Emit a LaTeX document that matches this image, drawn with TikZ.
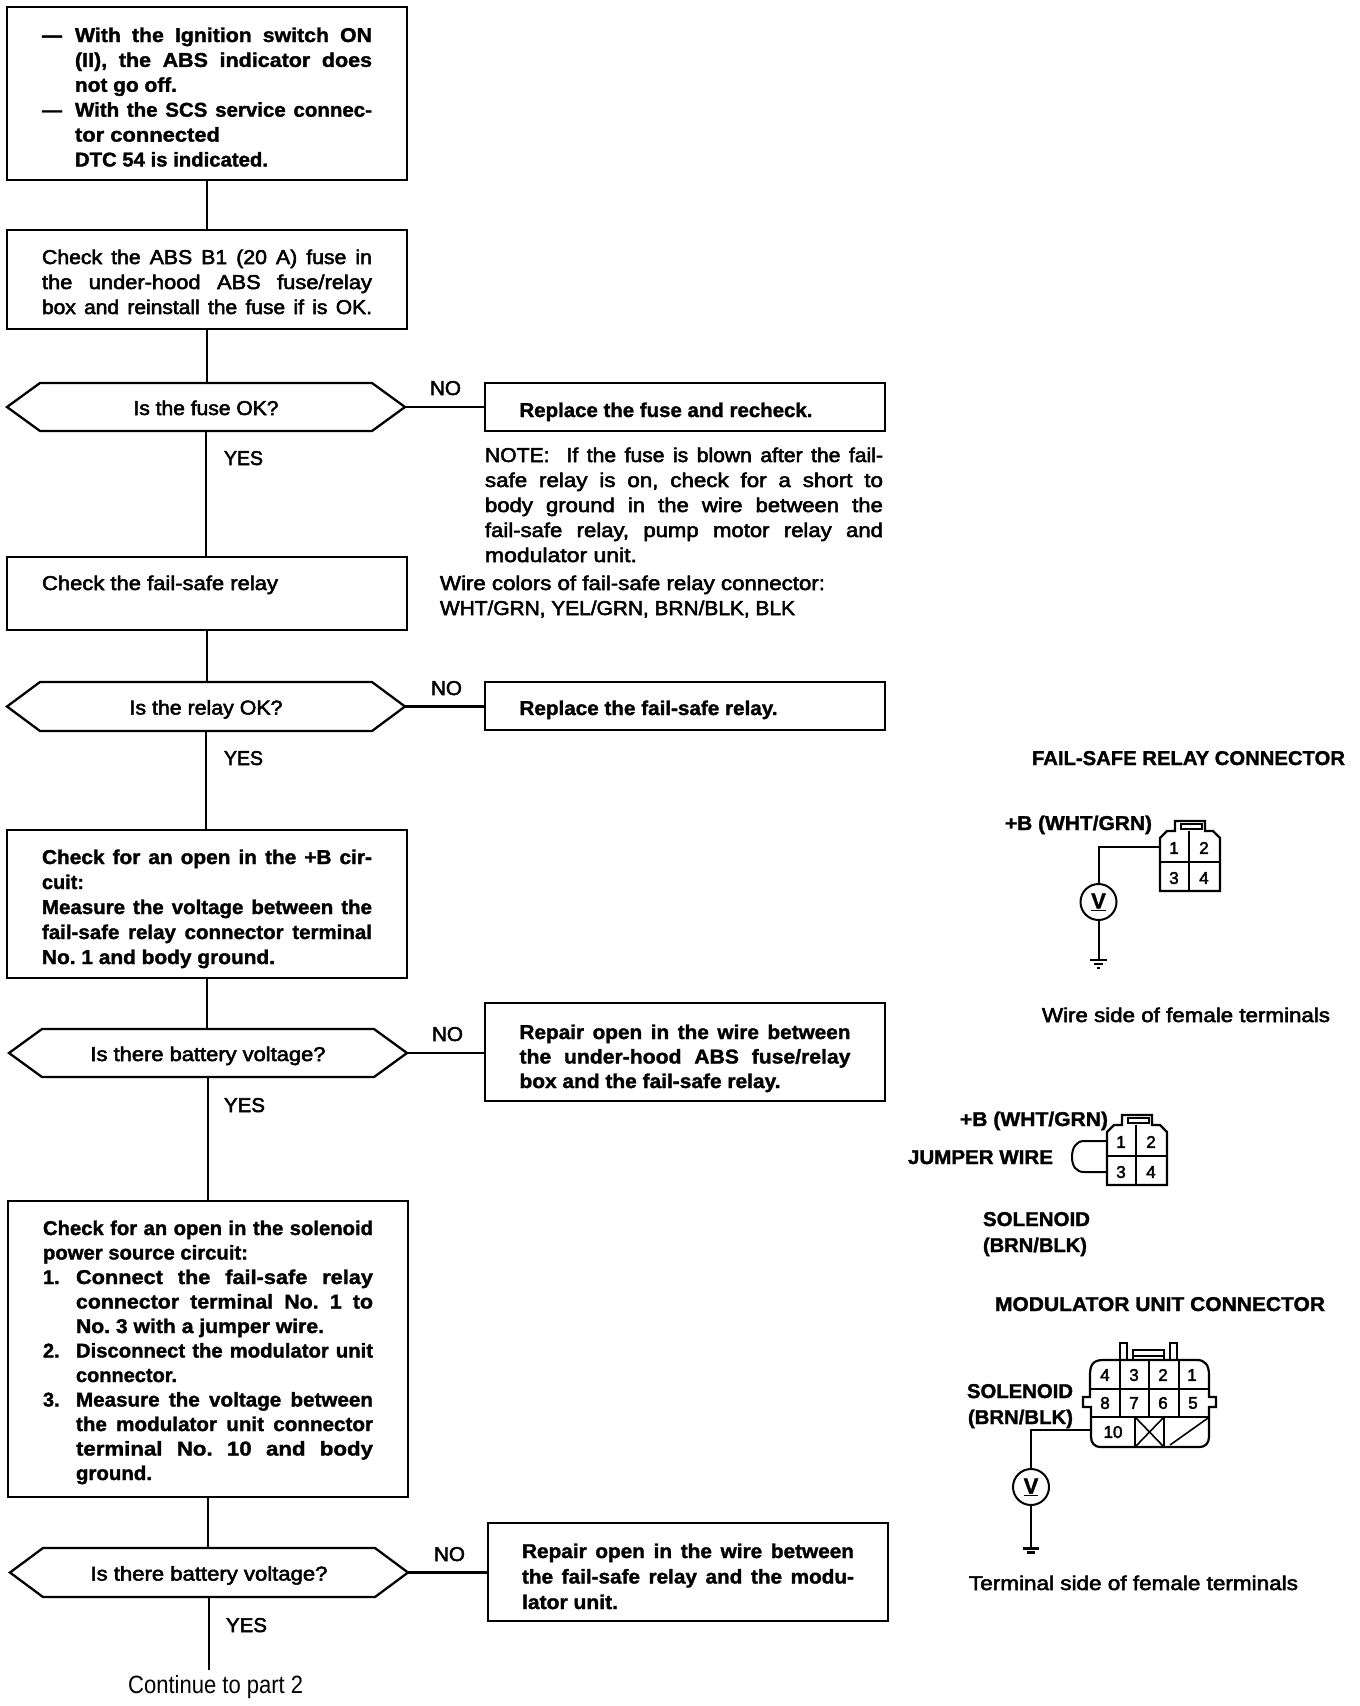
\documentclass[tikz,border=0pt]{standalone}
\usepackage{fontspec}
\usepackage{graphicx}
\setmainfont{Liberation Sans}
\newfontfamily\rgface[FakeBold=2.5]{Liberation Sans}
\newfontfamily\bdface[FakeBold=1.5]{Liberation Sans Bold}
\def\lsv{24pt}
\newcommand\rgf{\fontsize{20}{\lsv}\selectfont\rgface\frenchspacing}
\newcommand\bdf{\fontsize{20}{\lsv}\selectfont\bdface\frenchspacing}
\newcommand\numf{\fontsize{17}{20}\selectfont\rgface}
\newsavebox\fbx
\newlength\lw
\newlength\ind
\newlength\tmpl
\setlength\ind{33pt}
\newcommand\myfit[2]{\sbox\fbx{#2}\resizebox{#1pt}{\height}{\usebox\fbx}}
\newcommand\jl[1]{\sbox\fbx{#1}%
  \ifdim\wd\fbx>\lw\hbox to \lw{\resizebox{\lw}{\height}{\usebox\fbx}}%
  \else
    \pgfmathsetmacro\scf{1+0.45*(\the\lw-\the\wd\fbx)/\the\wd\fbx}%
    \pgfmathsetlength\tmpl{\the\lw/\scf}%
    \hbox to \lw{\scalebox{\scf}[1]{\hbox to \tmpl{#1}}\hss}%
  \fi}
\newcommand\pl[2]{\hbox to \lw{\myfit{#1}{#2}\hfil}}
\newcommand\il[2]{\hbox to \lw{\hbox to \ind{#1\hfil}\begingroup\advance\lw-\ind\jl{#2}\endgroup}}
\newcommand\ipl[3]{\hbox to \lw{\hbox to \ind{#1\hfil}\myfit{#2}{#3}\hfil}}
\newcommand\tbox[9]{%
  \pgfmathsetlengthmacro\rr{(#3+#5)/2-#6-7}%
  \node[boxnode,minimum width={#4pt-#2pt},minimum height={#5pt-#3pt}] (#1) at ({(#2+#4)/2},{(#3+#5)/2})
   {\smash{\raisebox{\rr}{\vtop{\def\lsv{#7pt}\setlength\lw{#8pt}\hsize=\lw\lineskiplimit=-100pt #9}}}};}
\newcommand\tblock[6]{%
  \node[anchor=base west,inner sep=0pt,outer sep=0pt] (#1) at (#2,#3+7)
   {\vtop{\def\lsv{#4pt}\setlength\lw{#5pt}\hsize=\lw\lineskiplimit=-100pt #6}};}
\newcommand\hexa[7]{%
  \node[inner sep=0pt,outer sep=0pt,minimum width={#3pt-#2pt},minimum height={#5pt-#4pt}] (#1) at ({(#2+#3)/2},{(#4+#5)/2}) {\rgf\smash{\raisebox{-8pt}{\myfit{#6}{#7}}}};
  \draw[border] (#1.west) -- ([xshift=33pt]#1.north west) -- ([xshift=-33pt]#1.north east) -- (#1.east)
     -- ([xshift=-33pt]#1.south east) -- ([xshift=33pt]#1.south west) -- cycle;}
\newcommand\lab[6]{\node[anchor=base west,inner sep=0pt,outer sep=0pt] (#1) at (#2,#3+7) {#6\myfit{#4}{#5}};}
\newcommand\vc[2]{\draw[conn] (#1.south) -- (#1.south |- #2.north);}
\newcommand\hc[2]{\draw[conn] (#1.east) -- (#1.east -| #2.west);}
\newcommand\fourpin[3]{%
 \begin{scope}[shift={(#1,#2)}]
  \draw[part] (0,0) -- (7,-7) -- (15,-7) -- (15,-17) -- (45,-17) -- (45,-7) -- (53,-7) -- (60,0) -- (60,53) -- (0,53) -- cycle;
  \draw[part] (0,24) -- (60,24) (29,-7) -- (29,53);
  \draw[thinpart] (21,-14) rectangle (42,-9);
  \node[pinnum] (#3a) at (14,10) {1};
  \node[pinnum] (#3b) at (44,10) {2};
  \node[pinnum] (#3c) at (14,40) {3};
  \node[pinnum] (#3d) at (44,40) {4};
 \end{scope}}
\tikzset{
  boxnode/.style={draw,line width=2.5pt,inner sep=0pt,outer sep=0pt,rectangle},
  border/.style={line width=2.3pt,line join=miter},
  conn/.style={line width=2.3pt},
  part/.style={line width=2.2pt,line join=miter},
  thinpart/.style={line width=1.6pt},
  wire/.style={line width=2pt},
  pinnum/.style={inner sep=0pt,outer sep=0pt,font=\numf},
  meter/.style={draw,circle,line width=2pt,minimum size=36pt,inner sep=0pt,outer sep=0pt,font=\fontsize{22}{24}\selectfont\bdface},
}
\begin{document}
\begin{tikzpicture}[x=1pt,y=-1pt]
\path[fill=white,use as bounding box] (0,0) rectangle (1360,1706);

% left column
\tbox{b1}{7}{7}{407}{180}{35}{24.9}{330}{\bdf
  \il{—}{With the Ignition switch ON}
  \il{}{(II), the ABS indicator does}
  \ipl{}{102}{not go off.}
  \il{—}{With the SCS service connec-}
  \ipl{}{145}{tor connected}
  \ipl{}{193}{DTC 54 is indicated.}}
\tbox{b2}{7}{230}{407}{329}{257}{25}{330}{\rgf
  \jl{Check the ABS B1 (20 A) fuse in}
  \jl{the under-hood ABS fuse/relay}
  \jl{box and reinstall the fuse if is OK.}}
\hexa{d1}{7}{405}{383}{431}{145}{Is the fuse OK?}
\tbox{b3}{7}{557}{407}{630}{583}{25}{330}{\rgf
  \pl{236}{Check the fail-safe relay}}
\hexa{d2}{7}{405}{682}{731}{153}{Is the relay OK?}
\tbox{b4}{7}{830}{407}{978}{857}{25}{330}{\bdf
  \jl{Check for an open in the +B cir-}
  \pl{42}{cuit:}
  \jl{Measure the voltage between the}
  \jl{fail-safe relay connector terminal}
  \pl{233}{No. 1 and body ground.}}
\hexa{d3}{9}{407}{1029}{1077}{235}{Is there battery voltage?}
\tbox{b5}{8}{1201}{408}{1497}{1228}{24.5}{330}{\bdf
  \jl{Check for an open in the solenoid}
  \pl{205}{power source circuit:}
  \il{1.}{Connect the fail-safe relay}
  \il{}{connector terminal No. 1 to}
  \ipl{}{248}{No. 3 with a jumper wire.}
  \il{2.}{Disconnect the modulator unit}
  \ipl{}{101}{connector.}
  \il{3.}{Measure the voltage between}
  \il{}{the modulator unit connector}
  \il{}{terminal No. 10 and body}
  \ipl{}{76}{ground.}}
\hexa{d4}{10}{408}{1548}{1597}{237}{Is there battery voltage?}
\coordinate (contend) at (209,1670);
\node[anchor=base west,inner sep=0pt] (cont) at (128,1693) {\fontsize{25}{28}\selectfont\rmfamily\myfit{175}{Continue to part 2}};

% right column of results
\tbox{r1}{485}{383}{885}{431}{410}{25}{331}{\bdf\pl{293}{Replace the fuse and recheck.}}
\tblock{note}{485}{455}{25}{398}{\rgf
  \jl{NOTE:\ \ If the fuse is blown after the fail-}
  \jl{safe relay is on, check for a short to}
  \jl{body ground in the wire between the}
  \jl{fail-safe relay, pump motor relay and}
  \pl{152}{modulator unit.}}
\tblock{wires}{440}{583}{25}{385}{\rgf
  \pl{385}{Wire colors of fail-safe relay connector:}
  \pl{355}{WHT/GRN, YEL/GRN, BRN/BLK, BLK}}
\tbox{r2}{485}{682}{885}{730}{708}{25}{331}{\bdf\pl{258}{Replace the fail-safe relay.}}
\tbox{r3}{485}{1003}{885}{1101}{1032}{24.5}{331}{\bdf
  \jl{Repair open in the wire between}
  \jl{the under-hood ABS fuse/relay}
  \pl{261}{box and the fail-safe relay.}}
\tbox{r4}{488}{1523}{888}{1621}{1551}{25.5}{332}{\bdf
  \jl{Repair open in the wire between}
  \jl{the fail-safe relay and the modu-}
  \pl{96}{lator unit.}}

% connectors
\vc{b1}{b2}
\vc{b2}{d1}
\vc{d1}{b3}
\vc{b3}{d2}
\vc{d2}{b4}
\vc{b4}{d3}
\vc{d3}{b5}
\vc{b5}{d4}
\draw[conn] (d4.south) -- (d4.south |- contend);
\hc{d1}{r1}
\hc{d2}{r2}
\hc{d3}{r3}
\hc{d4}{r4}

% NO / YES
\lab{no1}{430}{388}{31}{NO}{\rgf}
\lab{no2}{431}{688}{31}{NO}{\rgf}
\lab{no3}{432}{1034}{31}{NO}{\rgf}
\lab{no4}{434}{1554}{31}{NO}{\rgf}
\lab{yes1}{224}{458}{39}{YES}{\rgf}
\lab{yes2}{224}{758}{39}{YES}{\rgf}
\lab{yes3}{224}{1105}{41}{YES}{\rgf}
\lab{yes4}{226}{1625}{41}{YES}{\rgf}

% fail-safe relay connector
\lab{tfs}{1032}{758}{313}{FAIL-SAFE RELAY CONNECTOR}{\bdf}
\lab{bp1}{1005}{823}{147}{+B (WHT/GRN)}{\bdf}
\fourpin{1160}{838}{pa}
\coordinate (pa1) at (1160,847);
\node[meter] (v1) at (1098.5,902) {\underline{V}};
\coordinate (g1) at (1098.5,960);
\draw[wire] (pa1) -| (v1.north);
\draw[wire] (v1.south) -- (g1);
\draw[wire] (1090,960) -- (1107,960);
\draw[thinpart] (1094,964) -- (1103,964) (1097,968) -- (1100,968);
\lab{wside}{1042}{1015}{288}{Wire side of female terminals}{\rgf}

% jumper
\lab{bp2}{960}{1119}{148}{+B (WHT/GRN)}{\bdf}
\lab{jmp}{908}{1157}{145}{JUMPER WIRE}{\bdf}
\fourpin{1107}{1132}{pb}
\coordinate (pb1) at (1107,1141);
\coordinate (pb3) at (1107,1172);
\draw[wire] (pb1) -- (1084,1141) .. controls (1076,1141) and (1072,1148) .. (1072,1157)
   .. controls (1072,1166) and (1076,1172) .. (1084,1172) -- (pb3);
\lab{sol1}{983}{1219}{107}{SOLENOID}{\bdf}
\lab{sol1b}{983}{1245}{104}{(BRN/BLK)}{\bdf}

% modulator unit connector
\lab{tmod}{995}{1304}{330}{MODULATOR UNIT CONNECTOR}{\bdf}
\draw[part] (1120,1360) -- (1120,1343) -- (1127,1343) -- (1127,1360)
            (1170,1360) -- (1170,1343) -- (1177,1343) -- (1177,1360)
            (1133,1360) -- (1133,1350) -- (1164,1350) -- (1164,1360);
\draw[thinpart] (1133,1356) -- (1164,1356);
\draw[part] (1090,1397) -- (1090,1375) .. controls (1090,1365) and (1093,1360) .. (1103,1360)
   -- (1197,1360) .. controls (1205,1360) and (1209,1365) .. (1209,1375)
   -- (1209,1397) -- (1216,1397) -- (1216,1407) -- (1209,1407)
   -- (1209,1437) .. controls (1209,1443) and (1205,1447) .. (1200,1447)
   -- (1100,1447) .. controls (1095,1447) and (1091,1443) .. (1091,1437)
   -- (1091,1407) -- (1083,1407) -- (1083,1397) -- cycle;
\draw[part] (1090,1389) -- (1209,1389) (1090,1417) -- (1209,1417);
\draw[part] (1120,1360) -- (1120,1417) (1149,1360) -- (1149,1417) (1179,1360) -- (1179,1417);
\draw[part] (1135,1417) -- (1135,1447) (1164,1417) -- (1164,1447);
\draw[thinpart] (1135,1417) -- (1164,1447) (1135,1447) -- (1164,1417) (1170,1445) -- (1208,1418);
\node[pinnum] (m4) at (1105,1375) {4};
\node[pinnum] (m3) at (1134,1375) {3};
\node[pinnum] (m2) at (1163,1375) {2};
\node[pinnum] (m1) at (1192,1375) {1};
\node[pinnum] (m8) at (1105,1403) {8};
\node[pinnum] (m7) at (1134,1403) {7};
\node[pinnum] (m6) at (1163,1403) {6};
\node[pinnum] (m5) at (1193,1403) {5};
\node[pinnum] (m10) at (1113,1432) {10};
\coordinate (m10w) at (1091,1430);
\node[meter] (v2) at (1031,1487) {\underline{V}};
\coordinate (g2) at (1031,1548);
\draw[line width=2.4pt] (m10w) -| (v2.north);
\draw[wire] (v2.south) -- (g2);
\draw[line width=3pt] (1023,1548) -- (1039,1548) (1027,1552) -- (1035,1552);
\lab{sol2}{967}{1391}{106}{SOLENOID}{\bdf}
\lab{sol2b}{968}{1417}{105}{(BRN/BLK)}{\bdf}
\lab{tside}{969}{1583}{329}{Terminal side of female terminals}{\rgf}
\end{tikzpicture}
\end{document}
